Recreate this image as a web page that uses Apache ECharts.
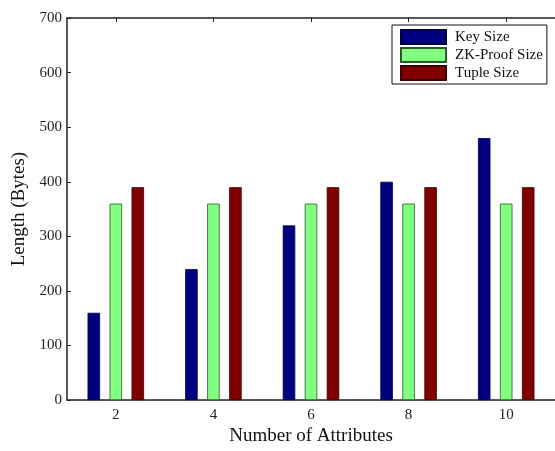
<!DOCTYPE html>
<html><head><meta charset="utf-8">
<script src="https://cdn.jsdelivr.net/npm/echarts@6/dist/echarts.min.js"></script>
<style>html,body{margin:0;padding:0;background:#fff}#c{width:555px;height:451px}</style>
</head><body><div id="c"></div>
<script>
var categories = ['2','4','6','8','10'];
var keySize = [160, 240, 320, 400, 480];
var zkProofSize = [360, 360, 360, 360, 360];
var tupleSize = [390, 390, 390, 390, 390];
var seriesNames = ['Key Size','ZK-Proof Size','Tuple Size'];
var colors = ['#000080','#80ff80','#800000'];

var font = 'Liberation Serif';
var chart = echarts.init(document.getElementById('c'), null, {renderer:'canvas'});
var axisLine = {show:true, lineStyle:{color:'#222', width:1.5}};
function bar(name, data, color, border){
  return {name:name, type:'bar', data:data, barWidth:12.5, barGap:'76%',
    itemStyle:{color:color, borderColor:border, borderWidth:0.8}, xAxisIndex:0};
}
chart.setOption({
  animation:false,
  backgroundColor:'#fff',
  grid:{left:67, top:18, bottom:42, right:-7, containLabel:false},
  legend:{
    orient:'vertical', left:392, top:25,
    data:seriesNames.map(function(n){return {name:n, icon:'rect'};}),
    itemWidth:45, itemHeight:14, itemGap:2,
    padding:[4,4,3,8],
    borderColor:'#111', borderWidth:1, backgroundColor:'#fff',
    textStyle:{fontFamily:font, fontSize:15, lineHeight:14, color:'#111', padding:[0,0,0,4]},
    selectedMode:false
  },
  xAxis:[{
    type:'category', data:categories, position:'bottom',
    axisLine:axisLine,
    axisTick:{show:true, inside:true, alignWithLabel:true, length:4, lineStyle:{color:'#222'}},
    axisLabel:{fontFamily:font, fontSize:15, color:'#222', margin:7},
    name:'Number of Attributes', nameLocation:'middle', nameGap:23,
    nameTextStyle:{fontFamily:font, fontSize:19, color:'#111'}
  },{
    type:'category', data:categories, position:'top',
    axisLine:axisLine,
    axisTick:{show:true, inside:true, alignWithLabel:true, length:4, lineStyle:{color:'#222'}},
    axisLabel:{show:false}
  }],
  yAxis:{
    type:'value', min:0, max:700, interval:100,
    axisLine:axisLine,
    axisTick:{show:true, inside:true, length:4, lineStyle:{color:'#222'}},
    splitLine:{show:false},
    axisLabel:{fontFamily:font, fontSize:15, color:'#222', margin:5},
    name:'Length (Bytes)', nameLocation:'middle', nameGap:38,
    nameTextStyle:{fontFamily:font, fontSize:19, color:'#111'}
  },
  series:[
    bar(seriesNames[0], keySize, colors[0], '#000040'),
    bar(seriesNames[1], zkProofSize, colors[1], '#2a5a2a'),
    bar(seriesNames[2], tupleSize, colors[2], '#400000')
  ]
});
</script></body></html>
